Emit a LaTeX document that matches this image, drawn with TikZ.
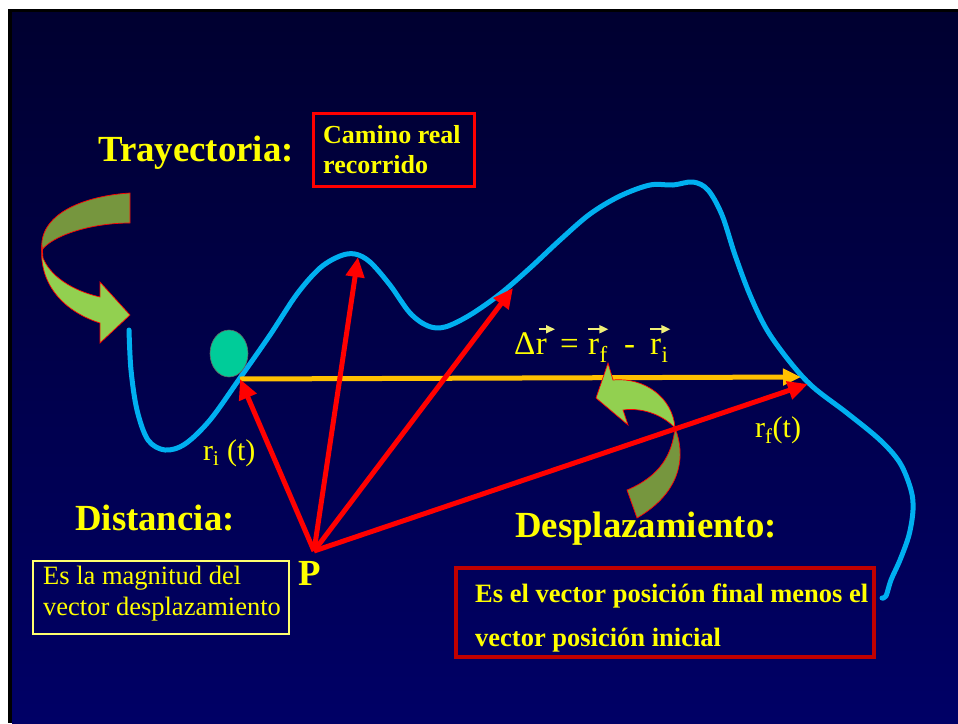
\documentclass[tikz,border=0pt]{standalone}
\usepackage{fontspec}
\setmainfont{Liberation Serif}
\usetikzlibrary{arrows.meta,shapes.geometric}
\definecolor{navytop}{RGB}{0,0,48}
\definecolor{navybot}{RGB}{0,0,102}
\definecolor{cyanc}{RGB}{0,176,240}
\definecolor{vecred}{RGB}{255,0,0}
\definecolor{orangec}{RGB}{255,192,0}
\definecolor{lightgreen}{RGB}{146,208,80}
\definecolor{darkgreen}{RGB}{118,150,62}
\definecolor{ballgreen}{RGB}{0,204,153}
\definecolor{darkred}{RGB}{192,0,0}
\definecolor{txtyellow}{RGB}{255,255,0}
\definecolor{arrowyellow}{RGB}{240,240,120}
\definecolor{boxyellow}{RGB}{255,255,110}
\begin{document}
\begin{tikzpicture}[x=1pt,y=-1pt,
  titletext/.style={text=txtyellow,font=\fontsize{36.8}{40}\selectfont\bfseries,inner sep=0pt,anchor=base west},
  labeltext/.style={text=txtyellow,font=\fontsize{30}{32}\selectfont,inner sep=0pt,anchor=base west},
  formtext/.style={text=txtyellow,font=\fontsize{33}{35}\selectfont,inner sep=0pt,anchor=base west},
  boldbox/.style={text=txtyellow,font=\fontsize{26.5}{44}\selectfont\bfseries,inner sep=0pt,anchor=base west,align=left},
  vecarrow/.style={draw=vecred,line width=5pt,-{Triangle[length=20pt,width=18pt]}},
  disparrow/.style={draw=orangec,line width=5pt,-{Triangle[length=18pt,width=16pt]}},
  overarr/.style={draw=arrowyellow,line width=1.8pt,-{Triangle[length=9pt,width=8pt]}},
  traj/.style={draw=cyanc,line width=5pt,line cap=round,line join=round},
  bentback/.style={fill=darkgreen,draw=red,line width=0.7pt},
  bentfront/.style={fill=lightgreen,draw=red,line width=0.7pt},
  framebox/.style={draw,inner sep=0pt}]
\useasboundingbox (0,0) rectangle (958,723);
\fill[white] (0,0) rectangle (958,723);
\fill[black] (8,9) rectangle (958,723);
\shade[top color=navytop,bottom color=navybot] (12,12) rectangle (958,723);

% trajectory
\draw[traj] plot[smooth,tension=0.55] coordinates {
 (129,330) (131,370) (137,410) (148,440) (165,450) (185,444) (210,420)
 (240,378) (270,335) (297,294) (320,268) (340,256) (355,254) (370,262)
 (390,285) (410,313) (428,326) (445,327) (470,315) (500,294) (530,268)
 (560,240) (590,214) (620,196) (650,185) (673,185) (693,182) (708,190)
 (722,215) (735,255) (750,295) (767,330) (790,362) (813,387) (847,413)
 (880,440) (900,463) (911,490) (913,510) (909,535) (900,560) (891,580)
 (886,596) (882,598)};

% left bent arrow
\draw[bentback] (130,193) .. controls (82,196) and (38,215) .. (42,250)
  .. controls (52,236) and (90,223) .. (130,223) -- cycle;
\draw[bentfront] (42,245) .. controls (38,285) and (65,312) .. (100,323)
  -- (100,343) -- (130,315) -- (100,282) -- (100,297)
  .. controls (70,290) and (50,275) .. (43,258) -- cycle;

% coordinates
\coordinate (O) at (314,551);
\coordinate (Ri) at (240,379);
\coordinate (Pk) at (358,257);
\coordinate (Mid) at (513,288);
\coordinate (Rf) at (808,384);
\coordinate (Df) at (801,377);

% displacement
\draw[disparrow] (Ri) -- (Df);

% right bent arrow
\draw[bentback] (675,428) .. controls (686,455) and (682,492) .. (637,518)
  -- (627,490) .. controls (660,476) and (672,455) .. (675,428) -- cycle;
\draw[bentfront] (608,363) -- (613,380) .. controls (645,377) and (673,398) .. (675,428)
  .. controls (665,417) and (645,407) .. (623,410) -- (628,425) -- (596,398) -- cycle;

% position vectors
\draw[vecarrow] (O) -- (Ri);
\draw[vecarrow] (O) -- (Pk);
\draw[vecarrow] (O) -- (Mid);
\draw[vecarrow] (O) -- (Rf);

% ball
\node (ball) [ellipse,minimum width=38pt,minimum height=47pt,inner sep=0pt,fill=ballgreen,draw=black!60,line width=0.6pt] at (229,353.5) {};

% titles
\node (tray) [titletext] at (98,161) {Trayectoria:};
\node (dist) [titletext] at (75,530) {Distancia:};
\node (desp) [titletext] at (515,537) {Desplazamiento:};
\node (P) [titletext] at (298,585) {P};

% camino box
\node (caminobox) [framebox,draw=red,line width=3pt,minimum width=161pt,minimum height=73pt] at (393.5,149.5) {};
\node (caminotxt) [text=txtyellow,font=\fontsize{26}{30}\selectfont\bfseries,inner sep=0pt,anchor=base west,align=left] at (323,173) {Camino real\\recorrido};

% distancia box
\node (distbox) [framebox,draw=boxyellow,line width=2.5pt,minimum width=256pt,minimum height=73pt] at (161,597.5) {};
\node (disttxt) [text=txtyellow,font=\fontsize{26.5}{31}\selectfont,inner sep=0pt,anchor=base west,align=left] at (43,615) {Es la magnitud del\\vector desplazamiento};

% desplazamiento box
\node (despbox) [framebox,draw=darkred,line width=4pt,minimum width=418pt,minimum height=89pt] at (665,612.5) {};
\node (desptxt) [boldbox] at (475,646) {Es el vector posición final menos el\\vector posición inicial};

% labels
\node (rilab) [labeltext] at (203,460) {r\textsubscript{i} (t)};
\node (rflab) [labeltext] at (755,437) {r\textsubscript{f}(t)};

% formula
\node (fdelta) [formtext] at (514,354) {Δ};
\node (fr1) [formtext,anchor=base west] at (fdelta.base east) {r};
\node (feq) [formtext] at (560,354) {=};
\node (fr2) [formtext] at (588,354) {r};
\node (fsf) [text=txtyellow,font=\fontsize{23}{25}\selectfont,inner sep=0pt,anchor=base west] at ([yshift=-8pt]fr2.base east) {f};
\node (fmin) [formtext] at (624,354) {-};
\node (fr3) [formtext] at (650,354) {r};
\node (fsi) [text=txtyellow,font=\fontsize{23}{25}\selectfont,inner sep=0pt,anchor=base west] at ([yshift=-8pt]fr3.base east) {i};
\draw[overarr] ([xshift=3pt,yshift=9pt]fr1.north west) -- ([xshift=8pt,yshift=9pt]fr1.north east);
\draw[overarr] ([xshift=0pt,yshift=9pt]fr2.north west) -- ([xshift=9pt,yshift=9pt]fr2.north east);
\draw[overarr] ([xshift=0pt,yshift=9pt]fr3.north west) -- ([xshift=9pt,yshift=9pt]fr3.north east);
\end{tikzpicture}
\end{document}
